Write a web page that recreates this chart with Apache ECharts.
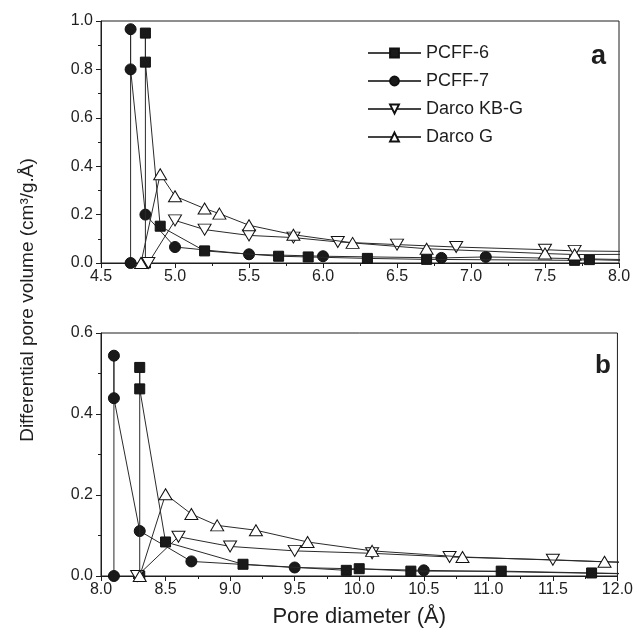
<!DOCTYPE html>
<html>
<head>
<meta charset="utf-8">
<script src="https://cdn.jsdelivr.net/npm/echarts@6/dist/echarts.min.js"></script>
<style>
html,body{margin:0;padding:0;background:#fff;}
#c{width:636px;height:635px;}
</style>
</head>
<body>
<div id="c"></div>
<script>
// ---------- Data (panel a) ----------
var seriesNames = ['PCFF-6', 'PCFF-7', 'Darco KB-G', 'Darco G'];

var a_pcff6_x = [4.8, 4.8, 4.8, 4.9, 5.2, 5.7, 5.9, 6.3, 6.7, 7.7, 7.8, 8.3];
var a_pcff6_y = [0, 0.95, 0.83, 0.152, 0.050, 0.028, 0.025, 0.019, 0.015, 0.011, 0.014, 0.006];
var a_pcff7_x = [4.7, 4.7, 4.7, 4.8, 5.0, 5.5, 6.0, 6.8, 7.1, 8.4];
var a_pcff7_y = [0, 0.966, 0.80, 0.20, 0.066, 0.036, 0.028, 0.021, 0.025, 0.010];
var a_kbg_x = [4.82, 5.0, 5.2, 5.5, 5.8, 6.1, 6.5, 6.9, 7.5, 7.7, 8.3];
var a_kbg_y = [0, 0.176, 0.138, 0.114, 0.105, 0.087, 0.076, 0.066, 0.055, 0.050, 0.046];
var a_g_x = [4.77, 4.9, 5.0, 5.2, 5.3, 5.5, 5.8, 6.2, 6.7, 7.5, 7.7, 8.2];
var a_g_y = [0, 0.367, 0.276, 0.225, 0.204, 0.156, 0.117, 0.083, 0.059, 0.039, 0.035, 0.036];

// ---------- Data (panel b) ----------
var b_pcff6_x = [8.3, 8.3, 8.3, 8.5, 9.1, 9.9, 10.0, 10.4, 11.1, 11.8, 12.4];
var b_pcff6_y = [0, 0.515, 0.462, 0.084, 0.029, 0.014, 0.018, 0.012, 0.012, 0.0075, 0.004];
var b_pcff7_x = [8.1, 8.1, 8.1, 8.3, 8.7, 9.5, 10.5, 12.5];
var b_pcff7_y = [0, 0.544, 0.439, 0.111, 0.036, 0.021, 0.014, 0.003];
var b_kbg_x = [8.28, 8.6, 9.0, 9.5, 10.1, 10.7, 11.5, 12.5];
var b_kbg_y = [0, 0.097, 0.073, 0.062, 0.056, 0.047, 0.040, 0.028];
var b_g_x = [8.3, 8.5, 8.7, 8.9, 9.2, 9.6, 10.1, 10.8, 11.9, 12.3];
var b_g_y = [0, 0.202, 0.153, 0.125, 0.113, 0.084, 0.062, 0.047, 0.035, 0.033];

// ---------- Axis settings ----------
var a_xMin = 4.5, a_xMax = 8.0, a_yMax = 1.0;
var b_xMin = 8.0, b_xMax = 12.0, b_yMax = 0.6;
var xTitle = 'Pore diameter (Å)';
var yTitle = 'Differential pore volume (cm³/g.Å)';

function zip(xs, ys) { return xs.map(function (x, i) { return [x, ys[i]]; }); }

var FONT = '"Liberation Sans", Arial, Helvetica, sans-serif';
var INK = '#1e1e1e';
var LINE = '#2a2a2a';

var styles = {
  'PCFF-6': { symbol: 'rect', symbolSize: 10, symbolRotate: 0, fill: '#1a1a1a', z: 3 },
  'PCFF-7': { symbol: 'circle', symbolSize: 11, symbolRotate: 0, fill: '#1a1a1a', z: 2 },
  'Darco KB-G': { symbol: 'triangle', symbolSize: [13, 11], symbolRotate: 180, fill: '#ffffff', z: 4 },
  'Darco G': { symbol: 'triangle', symbolSize: [13, 11], symbolRotate: 0, fill: '#ffffff', z: 5 }
};

function mkSeries(name, idx, data) {
  var s = styles[name];
  return {
    name: name, type: 'line', xAxisIndex: idx, yAxisIndex: idx,
    data: data, symbol: s.symbol, symbolSize: s.symbolSize, symbolRotate: s.symbolRotate,
    showAllSymbol: true, clip: true, z: s.z, animation: false,
    lineStyle: { color: LINE, width: 1 },
    itemStyle: { color: s.fill, borderColor: '#111', borderWidth: 1 }
  };
}

function xAxis(idx, min, max, showName) {
  return {
    type: 'value', gridIndex: idx, min: min, max: max, interval: 0.5,
    axisLine: { show: true, onZero: false, lineStyle: { color: INK, width: 1 } },
    axisTick: { show: true, inside: false, length: 5, lineStyle: { color: INK } },
    minorTick: { show: true, splitNumber: 2, length: 3, lineStyle: { color: INK } },
    splitLine: { show: false },
    axisLabel: { color: INK, fontFamily: FONT, fontSize: 16, margin: 6,
      formatter: function (v) { return v.toFixed(1); } },
    name: showName ? xTitle : '', nameLocation: 'middle', nameGap: 30,
    nameTextStyle: { color: INK, fontFamily: FONT, fontSize: 22 }
  };
}
function yAxis(idx, max) {
  return {
    type: 'value', gridIndex: idx, min: 0, max: max, interval: 0.2,
    axisLine: { show: true, lineStyle: { color: INK, width: 1 } },
    axisTick: { show: true, inside: false, length: 5, lineStyle: { color: INK } },
    minorTick: { show: true, splitNumber: 2, length: 3, lineStyle: { color: INK } },
    splitLine: { show: false },
    axisLabel: { color: INK, fontFamily: FONT, fontSize: 16, margin: 8,
      formatter: function (v) { return v.toFixed(1); } }
  };
}

var series = [
  mkSeries('PCFF-6', 0, zip(a_pcff6_x, a_pcff6_y)),
  mkSeries('PCFF-7', 0, zip(a_pcff7_x, a_pcff7_y)),
  mkSeries('Darco KB-G', 0, zip(a_kbg_x, a_kbg_y)),
  mkSeries('Darco G', 0, zip(a_g_x, a_g_y)),
  mkSeries('PCFF-6', 1, zip(b_pcff6_x, b_pcff6_y)),
  mkSeries('PCFF-7', 1, zip(b_pcff7_x, b_pcff7_y)),
  mkSeries('Darco KB-G', 1, zip(b_kbg_x, b_kbg_y)),
  mkSeries('Darco G', 1, zip(b_g_x, b_g_y))
];

var chart = echarts.init(document.getElementById('c'), null, { renderer: 'canvas' });
chart.setOption({
  backgroundColor: '#ffffff',
  animation: false,
  grid: [
    { left: 101, top: 21, width: 518, height: 242, show: true, borderColor: INK, borderWidth: 1, backgroundColor: 'transparent' },
    { left: 101, top: 333, width: 518, height: 243, show: true, borderColor: INK, borderWidth: 1, backgroundColor: 'transparent' }
  ],
  xAxis: [xAxis(0, a_xMin, a_xMax, false), xAxis(1, b_xMin, b_xMax, true)],
  yAxis: [yAxis(0, a_yMax), yAxis(1, b_yMax)],
  legend: {
    data: seriesNames, orient: 'vertical', left: 362, top: 39,
    itemWidth: 53, itemHeight: 11, itemGap: 10,
    lineStyle: { color: '#444' },
    textStyle: { color: INK, fontFamily: FONT, fontSize: 18, lineHeight: 18 },
    selectedMode: false
  },
  graphic: [
    { type: 'text', left: 591, top: 43, style: { text: 'a', fill: INK, font: 'bold 27px ' + FONT } },
    { type: 'text', left: 595, top: 353, style: { text: 'b', fill: INK, font: 'bold 26px ' + FONT } },
    { type: 'text', x: 28, y: 300, rotation: Math.PI / 2,
      style: { text: yTitle, fill: INK, font: '19px ' + FONT, align: 'center', verticalAlign: 'middle' } }
  ],
  series: series
});
</script>
</body>
</html>
